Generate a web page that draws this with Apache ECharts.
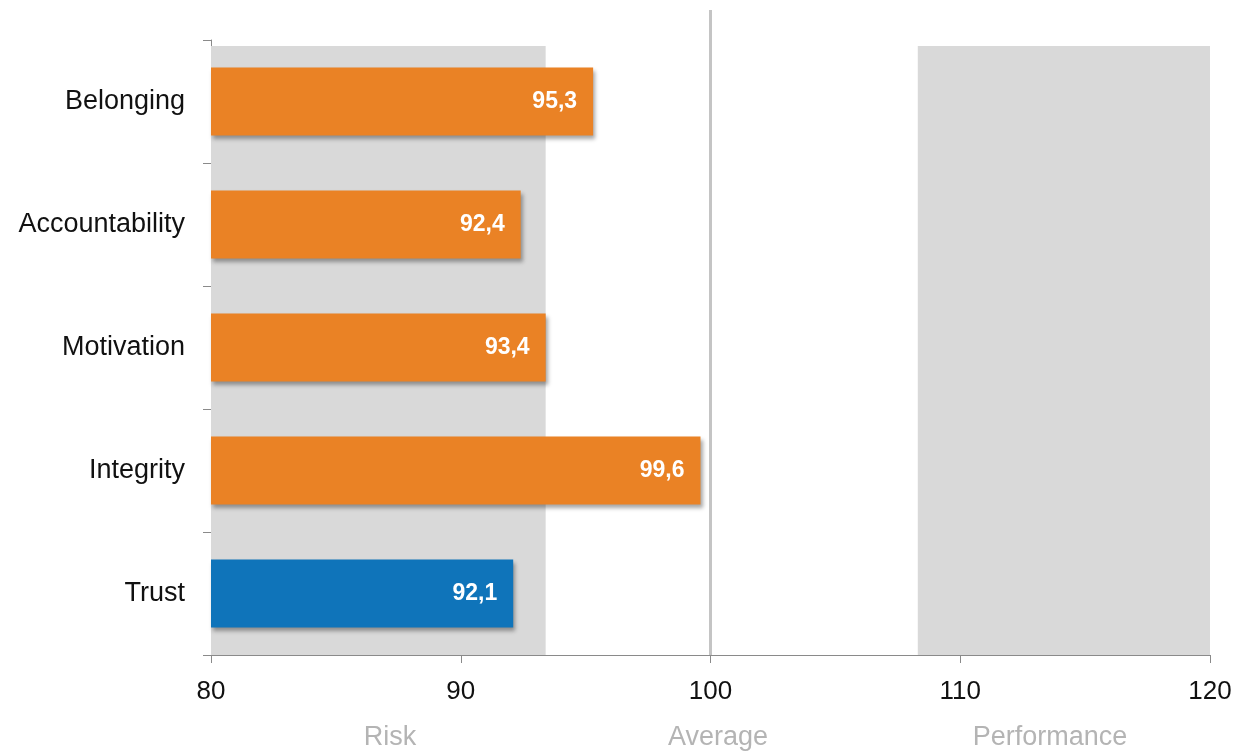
<!DOCTYPE html>
<html>
<head>
<meta charset="utf-8">
<script src="https://cdn.jsdelivr.net/npm/echarts@6/dist/echarts.min.js"></script>
<style>
  html, body { margin: 0; padding: 0; background: #fff; }
  #chart { width: 1242px; height: 752px; }
</style>
</head>
<body>
<div id="chart"></div>
<script>
// Dimension scores (top to bottom)
const categories = ['Belonging', 'Accountability', 'Motivation', 'Integrity', 'Trust'];
const scores = [95.3, 92.4, 93.4, 99.6, 92.1];
const highlighted = ['Trust'];

// Scale and reference zones
const xTicks = [80, 90, 100, 110, 120];
const riskZone = [80, 93.4];
const performanceZone = [108.3, 120];
const averageValue = 100;
const zoneNames = ['Risk', 'Average', 'Performance'];

const ORANGE = '#EA8225';
const BLUE = '#0F74BA';
const FONT = '"Liberation Sans", Arial, sans-serif';

const fmt = v => v.toFixed(1).replace('.', ',');

const chart = echarts.init(document.getElementById('chart'), null, { renderer: 'canvas' });

const gridBase = { left: 211, right: 32, bottom: 97 };
const xMin = xTicks[0], xMax = xTicks[xTicks.length - 1];
const hiddenX = idx => ({
  type: 'value', gridIndex: idx, min: xMin, max: xMax, show: false
});
const hiddenY = idx => ({
  type: 'value', gridIndex: idx, min: 0, max: 1, show: false
});

chart.setOption({
  animation: false,
  backgroundColor: '#fff',
  textStyle: { fontFamily: FONT },
  grid: [
    Object.assign({ top: 46 }, gridBase),   // zone backgrounds
    Object.assign({ top: 10 }, gridBase),   // average reference line
    Object.assign({ top: 40 }, gridBase)    // bars and axes
  ],
  xAxis: [
    hiddenX(0),
    hiddenX(1),
    {
      type: 'value', gridIndex: 2, min: xMin, max: xMax, interval: 10,
      axisLine: { show: true, lineStyle: { color: '#8a8a8a', width: 1 } },
      axisTick: { show: true, length: 8, lineStyle: { color: '#8a8a8a' } },
      splitLine: { show: false },
      axisLabel: { color: '#111', fontSize: 26, margin: 24, fontFamily: FONT }
    }
  ],
  yAxis: [
    hiddenY(0),
    hiddenY(1),
    {
      type: 'category', gridIndex: 2, data: categories, inverse: true,
      axisLine: { show: true, lineStyle: { color: '#8a8a8a', width: 1 } },
      axisTick: { show: true, length: 8, lineStyle: { color: '#8a8a8a' } },
      splitLine: { show: false },
      axisLabel: { color: '#111', fontSize: 27, margin: 26, fontFamily: FONT }
    }
  ],
  series: [
    {
      type: 'scatter', xAxisIndex: 0, yAxisIndex: 0, data: [], z: 1, silent: true,
      markArea: {
        silent: true,
        itemStyle: { color: '#d9d9d9' },
        label: { show: false },
        data: [
          [{ xAxis: riskZone[0] }, { xAxis: riskZone[1] }],
          [{ xAxis: performanceZone[0] }, { xAxis: performanceZone[1] }]
        ]
      }
    },
    {
      type: 'scatter', xAxisIndex: 1, yAxisIndex: 1, data: [], z: 2, silent: true,
      markLine: {
        silent: true,
        symbol: ['none', 'none'],
        label: { show: false },
        lineStyle: { color: '#c4c4c4', width: 3, type: 'solid' },
        data: [{ xAxis: averageValue }]
      }
    },
    {
      type: 'bar', xAxisIndex: 2, yAxisIndex: 2, z: 5,
      barWidth: 68,
      data: categories.map((c, i) => ({
        value: scores[i],
        itemStyle: { color: highlighted.includes(c) ? BLUE : ORANGE }
      })),
      itemStyle: {
        shadowColor: 'rgba(0,0,0,0.35)',
        shadowBlur: 4,
        shadowOffsetX: 2,
        shadowOffsetY: 3
      },
      label: {
        show: true,
        position: 'insideRight',
        distance: 16,
        color: '#fff',
        fontSize: 23,
        fontWeight: 'bold',
        fontFamily: FONT,
        formatter: p => fmt(p.value)
      }
    }
  ]
});

// Zone captions under the value axis
const captionX = [390, 718, 1050];
chart.setOption({
  graphic: zoneNames.map((name, i) => ({
    type: 'text',
    x: captionX[i],
    y: 738,
    style: {
      text: name,
      fill: '#b4b4b4',
      fontSize: 27,
      fontFamily: FONT,
      align: 'center',
      verticalAlign: 'middle'
    }
  }))
});
</script>
</body>
</html>
